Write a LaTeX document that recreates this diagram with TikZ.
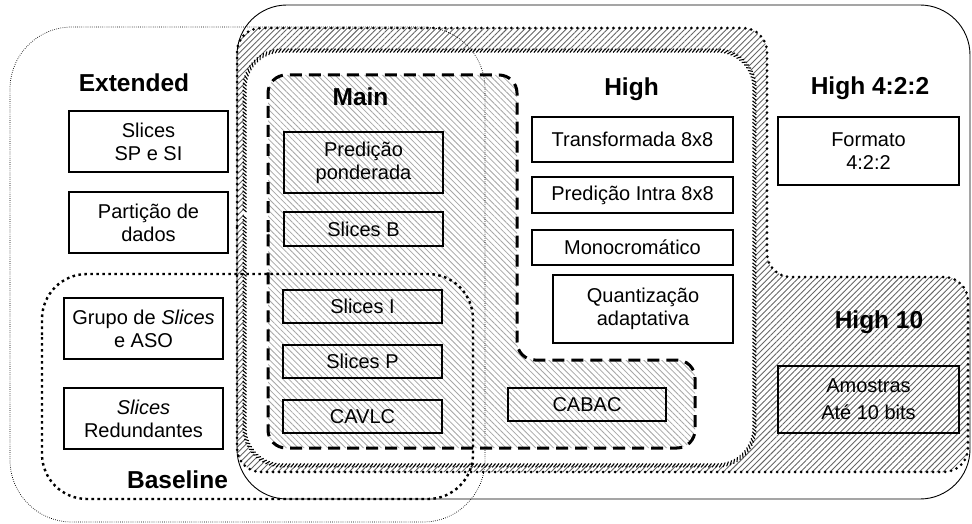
\documentclass[tikz,border=0pt]{standalone}
\usepackage{fontspec}
\setmainfont{Liberation Sans}
\usetikzlibrary{patterns.meta,decorations.pathreplacing}
\tikzset{
  box/.style={draw, line width=1.2pt, inner sep=0pt, outer sep=0pt, align=center,
    font=\fontsize{20}{23}\selectfont},
  lbl/.style={font=\fontsize{24.5}{28}\selectfont\bfseries, anchor=base, inner sep=0pt},
  hatchA/.style={pattern={Lines[angle=45,distance=4.2pt,line width=0.9pt]}, pattern color=black!60},
  hatchB/.style={pattern={Lines[angle=-45,distance=4.2pt,line width=0.8pt]}, pattern color=black!35},
  bigdots/.style={line width=3pt, dash pattern=on 0pt off 6pt, line cap=round},
  sqdots/.style={line width=2.4pt, dash pattern=on 2.6pt off 3.4pt},
  finedots/.style={line width=0.7pt, dash pattern=on 0.7pt off 1.4pt},
  bigdash/.style={line width=3pt, dash pattern=on 12pt off 7pt},
  ticked/.style={decorate, decoration={border, segment length=3.6pt, amplitude=5pt, angle=50, raise=-2.5pt}, draw, line width=1.1pt},
}
\begin{document}
\begin{tikzpicture}[x=1pt,y=-1pt]
\useasboundingbox (0,0) rectangle (972,524);
% High 10 region
\path[hatchA, rounded corners=24pt] (237,250) -- (237,28) -- (767,28) -- (767,277) -- (968,277) -- (968,472) -- (237,472) -- cycle;
\draw[bigdots, rounded corners=24pt] (237,250) -- (237,28) -- (767,28) -- (767,277) -- (968,277) -- (968,472) -- (237,472) -- cycle;
% High region
\fill[white, rounded corners=38pt] (244,250) -- (244,50) -- (755,50) -- (755,466) -- (244,466) -- cycle;
\path[ticked, rounded corners=38pt] (244,250) -- (244,50) -- (755,50) -- (755,466) -- (244,466) -- cycle;
% Main region
\path[hatchB, rounded corners=18pt] (268,250) -- (268,75) -- (517,75) -- (517,360) -- (695,360) -- (695,448) -- (268,448) -- cycle;
\draw[bigdash, rounded corners=18pt] (268,250) -- (268,75) -- (517,75) -- (517,360) -- (695,360) -- (695,448) -- (268,448) -- cycle;
% Extended
\draw[finedots, rounded corners=62pt] (10,250) -- (10,27) -- (485,27) -- (485,522) -- (10,522) -- cycle;
% High 4:2:2
\draw[line width=0.9pt, rounded corners=50pt] (237,250) -- (237,5) -- (970,5) -- (970,499) -- (237,499) -- cycle;
% Baseline
\draw[sqdots, rounded corners=45pt] (42,380) -- (42,274) -- (473,274) -- (473,499) -- (42,499) -- cycle;
% labels
\node[lbl] (lext) at (134,92) {Extended};
\node[lbl] (lmain) at (360.5,106) {Main};
\node[lbl] (lhigh) at (631.5,96) {High};
\node[lbl] (lh422) at (870,95) {High 4:2:2};
\node[lbl] (lh10) at (879,328) {High 10};
\node[lbl] (lbase) at (177.5,488) {Baseline};
% boxes
\node[box, minimum width=159pt, minimum height=61pt] (slsp) at (148.5,141.5) {Slices\\SP e SI};
\node[box, minimum width=159pt, minimum height=61pt] (part) at (148.5,222.5) {Partição de\\dados};
\node[box, minimum width=159pt, minimum height=61pt] (grupo) at (143.5,328.5) {Grupo de \textit{Slices}\\e ASO};
\node[box, minimum width=159pt, minimum height=61pt] (redund) at (143.5,418.5) {\textit{Slices}\\Redundantes};
\node[box, minimum width=159pt, minimum height=61pt] (pred) at (363.5,162.5) {Predição\\ponderada};
\node[box, minimum width=159pt, minimum height=34pt] (slb) at (363.5,229) {Slices B};
\node[box, minimum width=159pt, minimum height=33pt] (sli) at (362.5,306.5) {Slices I};
\node[box, minimum width=159pt, minimum height=33pt] (slp) at (362.5,361.5) {Slices P};
\node[box, minimum width=159pt, minimum height=33pt] (cavlc) at (362.5,416.5) {CAVLC};
\node[box, minimum width=201pt, minimum height=45pt] (transf) at (632.5,139.5) {Transformada 8x8};
\node[box, minimum width=201pt, minimum height=36pt] (intra) at (632.5,195) {Predição Intra 8x8};
\node[box, minimum width=201pt, minimum height=35pt] (mono) at (632.5,247.5) {Monocromático};
\node[box, minimum width=180pt, minimum height=68pt] (quant) at (643,309) {Quantização\\adaptativa};
\node[box, minimum width=158pt, minimum height=33pt] (cabac) at (587,404.5) {CABAC};
\node[box, minimum width=181pt, minimum height=68pt] (formato) at (868.5,151) {Formato\\4:2:2};
\node[box, minimum width=181pt, minimum height=67pt, font=\fontsize{20}{27}\selectfont] (amostras) at (868.5,399.5) {Amostras\\Até 10 bits};
\end{tikzpicture}
\end{document}
